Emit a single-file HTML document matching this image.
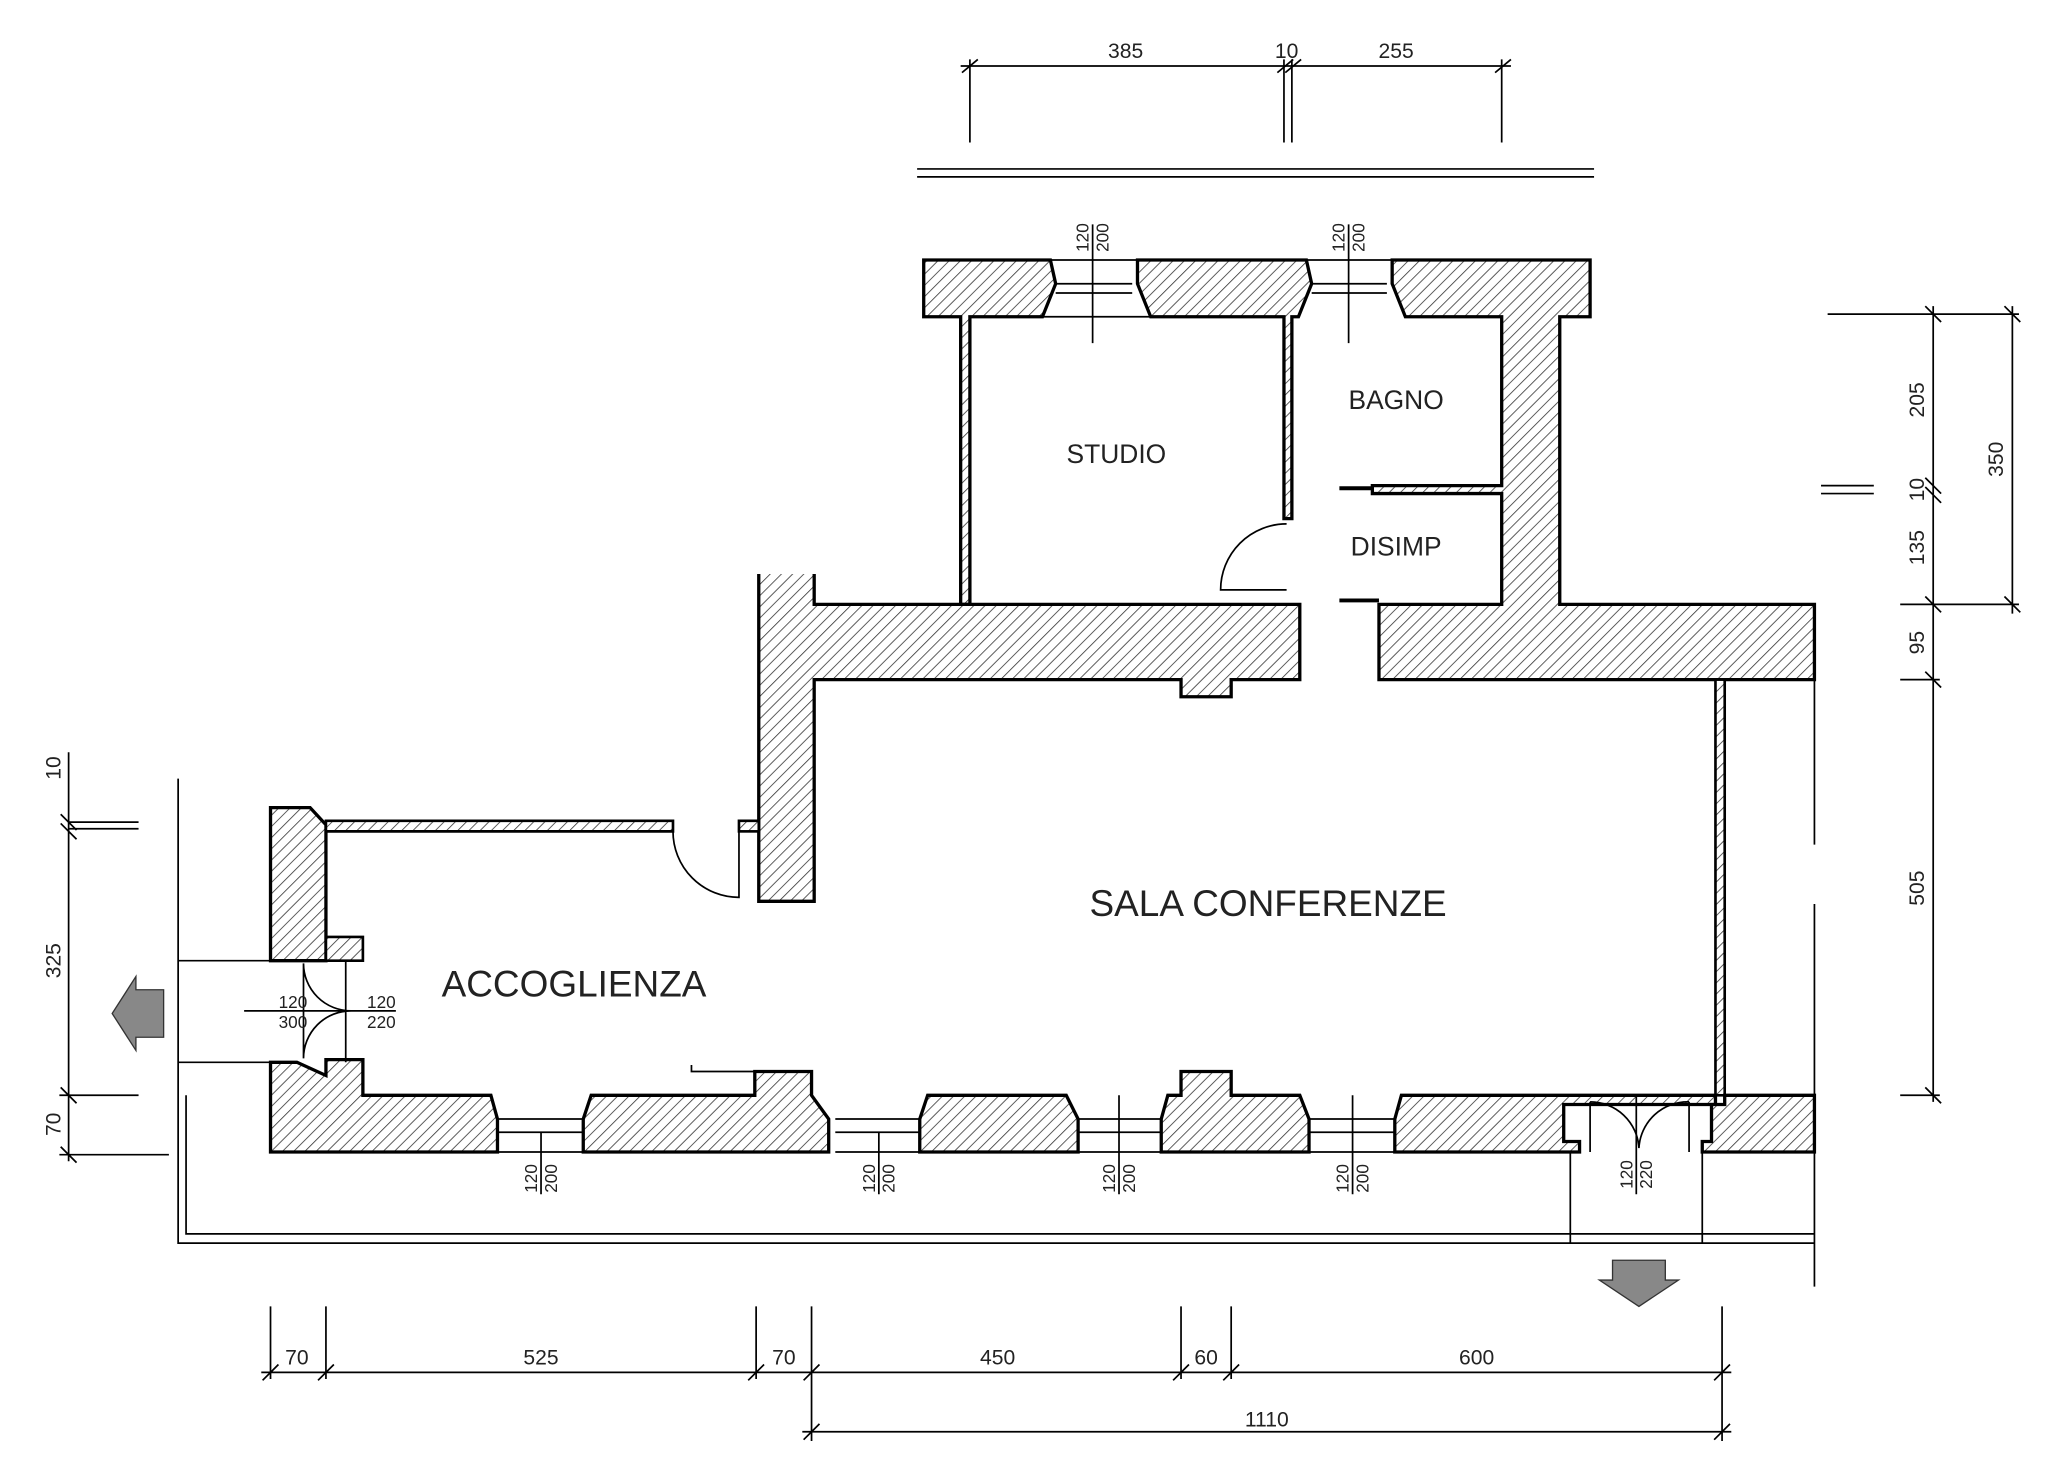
<!DOCTYPE html>
<html><head><meta charset="utf-8"><style>
html,body{margin:0;padding:0;background:#fff;}
svg{display:block}
text{font-family:"Liberation Sans",sans-serif;fill:#222}
</style></head><body>
<svg width="2048" height="1459" viewBox="0 0 1552 1105.6" xmlns="http://www.w3.org/2000/svg">
<defs>
<pattern id="h" width="6" height="6" patternUnits="userSpaceOnUse" patternTransform="rotate(45)">
<rect width="6" height="6" fill="#fff"/><line x1="0" y1="0" x2="0" y2="6" stroke="#333" stroke-width="1.2"/>
</pattern>
</defs>
<g fill="url(#h)" stroke="#000" stroke-width="3" stroke-linejoin="miter">
<path d="M700 197 H796 L800 215 L790 240 H735 V458 H728 V240 H700 Z" stroke-width="2.5"/>
<path d="M862 197 H990 L994 215 L984 240 H979 V393 H973 V240 H872 L862 215 Z" stroke-width="2.5"/>
<path d="M1055 197 H1205 V240 H1182 V458 H1375 V515 H1045 V458 H1138 V374 H1040 V368 H1138 V240 H1065 L1055 215 Z" stroke-width="2.5"/>
<path d="M575 435 V683 H617 V515 H895 V528 H933 V515 H985 V458 H617 V435" stroke-width="2.5"/>
<rect x="1300" y="515" width="7" height="315" stroke-width="2"/>
<path d="M205 612 H235 L247 625 V728 L225 728 L205 728 Z" stroke-width="2.5"/>
<path d="M247 622 H510 V630 H247 Z" stroke-width="2"/>
<path d="M247 710 H275 V728 H247 Z" stroke-width="2"/>
<path d="M205 805 H225 L247 815 V803 H275 V830 H372 L377 848 V873 H205 Z" stroke-width="2.5"/>
<path d="M442 848 L448 830 H572 V812 H615 V830 L628 848 V873 H442 Z" stroke-width="2.5"/>
<path d="M697 848 L703 830 H808 L817 848 V873 H697 Z" stroke-width="2.5"/>
<path d="M880 848 L885 830 H895 V812 H933 V830 H985 L992 848 V873 H880 Z" stroke-width="2.5"/>
<path d="M1057 848 L1062 830 H1300 V837 H1185 V865 H1197 V873 H1057 Z" stroke-width="2.5"/>
<path d="M1290 873 V865 H1297 V837 H1307 V830 H1375 V873 Z" stroke-width="2.5"/>
<rect x="560" y="622" width="15" height="8" stroke-width="2"/>
</g>
<g stroke="#000" fill="none" stroke-width="1.3">
<path d="M796 197 H862 M800 215 H858 M800 222 H858 M790 240 H872"/>
<path d="M990 197 H1055 M994 215 H1051 M994 222 H1051"/>
<path d="M377 848 H442 M377 858 H442 M377 873 H442"/>
<path d="M633 848 H697 M633 858 H697 M633 873 H697"/>
<path d="M817 848 H880 M817 858 H880 M817 873 H880"/>
<path d="M992 848 H1057 M992 858 H1057 M992 873 H1057"/>
<path d="M828 170 V260 M1022 170 V260 M410 858 V905 M666 858 V905 M848 830 V905 M1025 830 V905 M1240 830 V905"/>
<path d="M975 397 A50 50 0 0 0 925 447 H975"/>
<path d="M510 630 A50 50 0 0 0 560 680 V630"/>
<path d="M230 730 A36 36 0 0 0 266 766 M230 802 A36 36 0 0 1 266 766 M230 730 V802 M262 728 V805 M185 766 H300"/>
<path d="M1205 873 V835 M1205 835 A37 37 0 0 1 1242 870 M1280 835 A37 37 0 0 0 1242 870 M1280 873 V835"/>
<path d="M524 807 V812 H572"/>
<path d="M695 128 H1208 M695 134 H1208" />
<path d="M135 590 V942 H1375 M141 830 V935 H1375 M135 728 H205 M135 805 H205 M52 623 H105 M52 628 H105"/>
<path d="M1380 368 H1420 M1380 374 H1420 M1375 515 V640 M1375 685 V975 M1190 873 V942 M1290 873 V942"/>
<path d="M1015 370 H1040 M1015 455 H1045" stroke-width="3"/>
<path d="M728 50 H1145 M735 45 V108 M973 45 V108 M979 45 V108 M1138 45 V108"/>
<path d="M729 55 L741 45 M968 55 L980 45 M974 55 L986 45 M1133 55 L1145 45"/>
<path d="M198 1040 H1312 M205 990 V1045 M247 990 V1045 M573 990 V1045 M615 990 V1092 M895 990 V1045 M933 990 V1045 M1305 990 V1092 M608 1085 H1312"/>
<path d="M199 1046 L211 1034 M241 1046 L253 1034 M567 1046 L579 1034 M609 1046 L621 1034 M889 1046 L901 1034 M927 1046 L939 1034 M1299 1046 L1311 1034 M609 1091 L621 1079 M1299 1091 L1311 1079"/>
<path d="M1465 232 V835 M1525 232 V465 M1385 238 H1530 M1440 458 H1530 M1440 515 H1470 M1440 830 H1470"/>
<path d="M1459 232 L1471 244 M1519 232 L1531 244 M1459 362 L1471 374 M1459 369 L1471 381 M1459 452 L1471 464 M1519 452 L1531 464 M1459 509 L1471 521 M1459 824 L1471 836"/>
<path d="M52 570 V880 M45 830 H105 M45 875 H128"/>
<path d="M46 617 L58 629 M46 624 L58 636 M46 824 L58 836 M46 869 L58 881"/>
</g>
<path d="M85 768 L103 740 V750 H124 V786 H103 V796 Z" fill="#888" stroke="#333" stroke-width="1"/>
<path d="M1242 990 L1212 970 H1222 V955 H1262 V970 H1272 Z" fill="#888" stroke="#333" stroke-width="1"/>
<g>
<text x="846" y="351" text-anchor="middle" font-size="20">STUDIO</text>
<text x="1058" y="310" text-anchor="middle" font-size="20">BAGNO</text>
<text x="1058" y="421" text-anchor="middle" font-size="20">DISIMP</text>
<text x="961" y="694" text-anchor="middle" font-size="28" fill="#444">SALA CONFERENZE</text>
<text x="435" y="755" text-anchor="middle" font-size="28" fill="#444">ACCOGLIENZA</text>
</g>
<g font-size="16" text-anchor="middle">
<text x="853" y="44">385</text><text x="975" y="44">10</text><text x="1058" y="44">255</text>
<text x="225" y="1034">70</text><text x="410" y="1034">525</text><text x="594" y="1034">70</text>
<text x="756" y="1034">450</text><text x="914" y="1034">60</text><text x="1119" y="1034">600</text>
<text x="960" y="1081">1110</text>
<text x="222" y="764" font-size="13">120</text><text x="222" y="779" font-size="13">300</text>
<text x="289" y="764" font-size="13">120</text><text x="289" y="779" font-size="13">220</text>
</g>
<g font-size="13" text-anchor="middle">
<text transform="translate(825,180) rotate(-90)">120</text><text transform="translate(840,180) rotate(-90)">200</text>
<text transform="translate(1019,180) rotate(-90)">120</text><text transform="translate(1034,180) rotate(-90)">200</text>
<text transform="translate(407,893) rotate(-90)">120</text><text transform="translate(422,893) rotate(-90)">200</text>
<text transform="translate(663,893) rotate(-90)">120</text><text transform="translate(678,893) rotate(-90)">200</text>
<text transform="translate(845,893) rotate(-90)">120</text><text transform="translate(860,893) rotate(-90)">200</text>
<text transform="translate(1022,893) rotate(-90)">120</text><text transform="translate(1037,893) rotate(-90)">200</text>
<text transform="translate(1237,890) rotate(-90)">120</text><text transform="translate(1252,890) rotate(-90)">220</text>
</g>
<g font-size="16" text-anchor="middle">
<text transform="translate(1458,303) rotate(-90)">205</text>
<text transform="translate(1458,371) rotate(-90)">10</text>
<text transform="translate(1458,415) rotate(-90)">135</text>
<text transform="translate(1458,487) rotate(-90)">95</text>
<text transform="translate(1458,673) rotate(-90)">505</text>
<text transform="translate(1518,348) rotate(-90)">350</text>
<text transform="translate(46,582) rotate(-90)">10</text>
<text transform="translate(46,728) rotate(-90)">325</text>
<text transform="translate(46,852) rotate(-90)">70</text>
</g>
</svg>
</body></html>
